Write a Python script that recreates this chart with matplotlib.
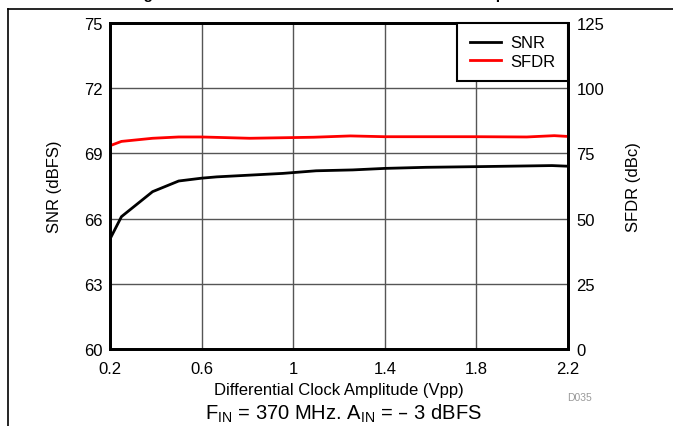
import numpy as np
import matplotlib.pyplot as plt
from matplotlib.lines import Line2D

plt.rcParams['font.family'] = ['Liberation Sans', 'DejaVu Sans']

# clock amplitude (Vpp)
amp_snr = [0.2, 0.25, 0.386, 0.5, 0.6, 0.666, 0.955, 1.1, 1.26, 1.4, 1.58, 1.8, 2.13, 2.2]
snr = [65.06, 66.09, 67.24, 67.73, 67.86, 67.92, 68.08, 68.2, 68.24, 68.31, 68.36, 68.39, 68.44, 68.41]

amp_sfdr = [0.2, 0.25, 0.386, 0.5, 0.6, 0.81, 1.09, 1.25, 1.4, 1.8, 2.02, 2.14, 2.2]
sfdr = [77.95, 79.6, 80.8, 81.3, 81.3, 80.8, 81.2, 81.7, 81.4, 81.4, 81.3, 81.8, 81.5]

xticks = [0.2, 0.6, 1, 1.4, 1.8, 2.2]
yticks_snr = [60, 63, 66, 69, 72, 75]
yticks_sfdr = [0, 25, 50, 75, 100, 125]

fig = plt.figure(figsize=(6.73, 4.27), dpi=100)
ax = fig.add_axes([110/673, 1-350/427, 458/673, 326/427])
ax2 = ax.twinx()

ax.plot(amp_snr, snr, color='black', lw=2)
ax2.plot(amp_sfdr, sfdr, color='red', lw=2)

ax.set_xlim(0.2, 2.2)
ax.set_ylim(60, 75)
ax2.set_ylim(0, 125)
ax.set_xticks(xticks)
ax.set_xticklabels(['0.2', '0.6', '1', '1.4', '1.8', '2.2'])
ax.set_yticks(yticks_snr)
ax2.set_yticks(yticks_sfdr)
ax.grid(True, color='#555555', lw=1)
ax.tick_params(axis='y', length=0, labelsize=12, pad=5)
ax.tick_params(axis='x', length=0, labelsize=12, pad=9)
ax2.tick_params(length=0, labelsize=12, pad=6)
for a in (ax, ax2):
    for s in a.spines.values():
        s.set_linewidth(2)
        s.set_color('black')

ax.set_ylabel('SNR (dBFS)', fontsize=12)
ax2.set_ylabel('SFDR (dBc)', fontsize=12)
ax.yaxis.set_label_coords(-(110-62)/458, 0.5)
ax2.yaxis.set_label_coords((626-110)/458, 0.5)
ax.set_xlabel('Differential Clock Amplitude (Vpp)', fontsize=12)
ax.xaxis.set_label_coords(0.5, -(391-350)/326)
ax.xaxis.label.set_va('center')

handles = [Line2D([], [], color='black', lw=2), Line2D([], [], color='red', lw=2)]
leg = ax2.legend(handles, ['SNR', 'SFDR'], loc='upper right', fontsize=12,
                 fancybox=False, framealpha=1, edgecolor='black',
                 borderaxespad=0, handlelength=1.9, labelspacing=0.2,
                 borderpad=0.75, handletextpad=0.55)
leg.get_frame().set_linewidth(1.5)

fig.text(580/673, 1-398/427, 'D035', fontsize=7.5, color='#999999', ha='center', va='center')
fig.text(343/673, 1-414/427, r'F$_{\mathregular{IN}}$ = 370 MHz. A$_{\mathregular{IN}}$ = – 3 dBFS',
         fontsize=14.5, ha='center', va='center')
fig.text(338/673, 1+1/427, 'Figure 35. SNR and SFDR vs Differential Clock Amplitude',
         fontsize=11, fontweight='bold', ha='center', va='baseline')

# frame lines of the figure box
fig.add_artist(Line2D([8/673, 8/673], [0, 1-10/427], color='black', lw=1.2, transform=fig.transFigure))
fig.add_artist(Line2D([8/673, 1], [1-10/427, 1-10/427], color='black', lw=1.2, transform=fig.transFigure))

fig.savefig('out.png', dpi=100)
